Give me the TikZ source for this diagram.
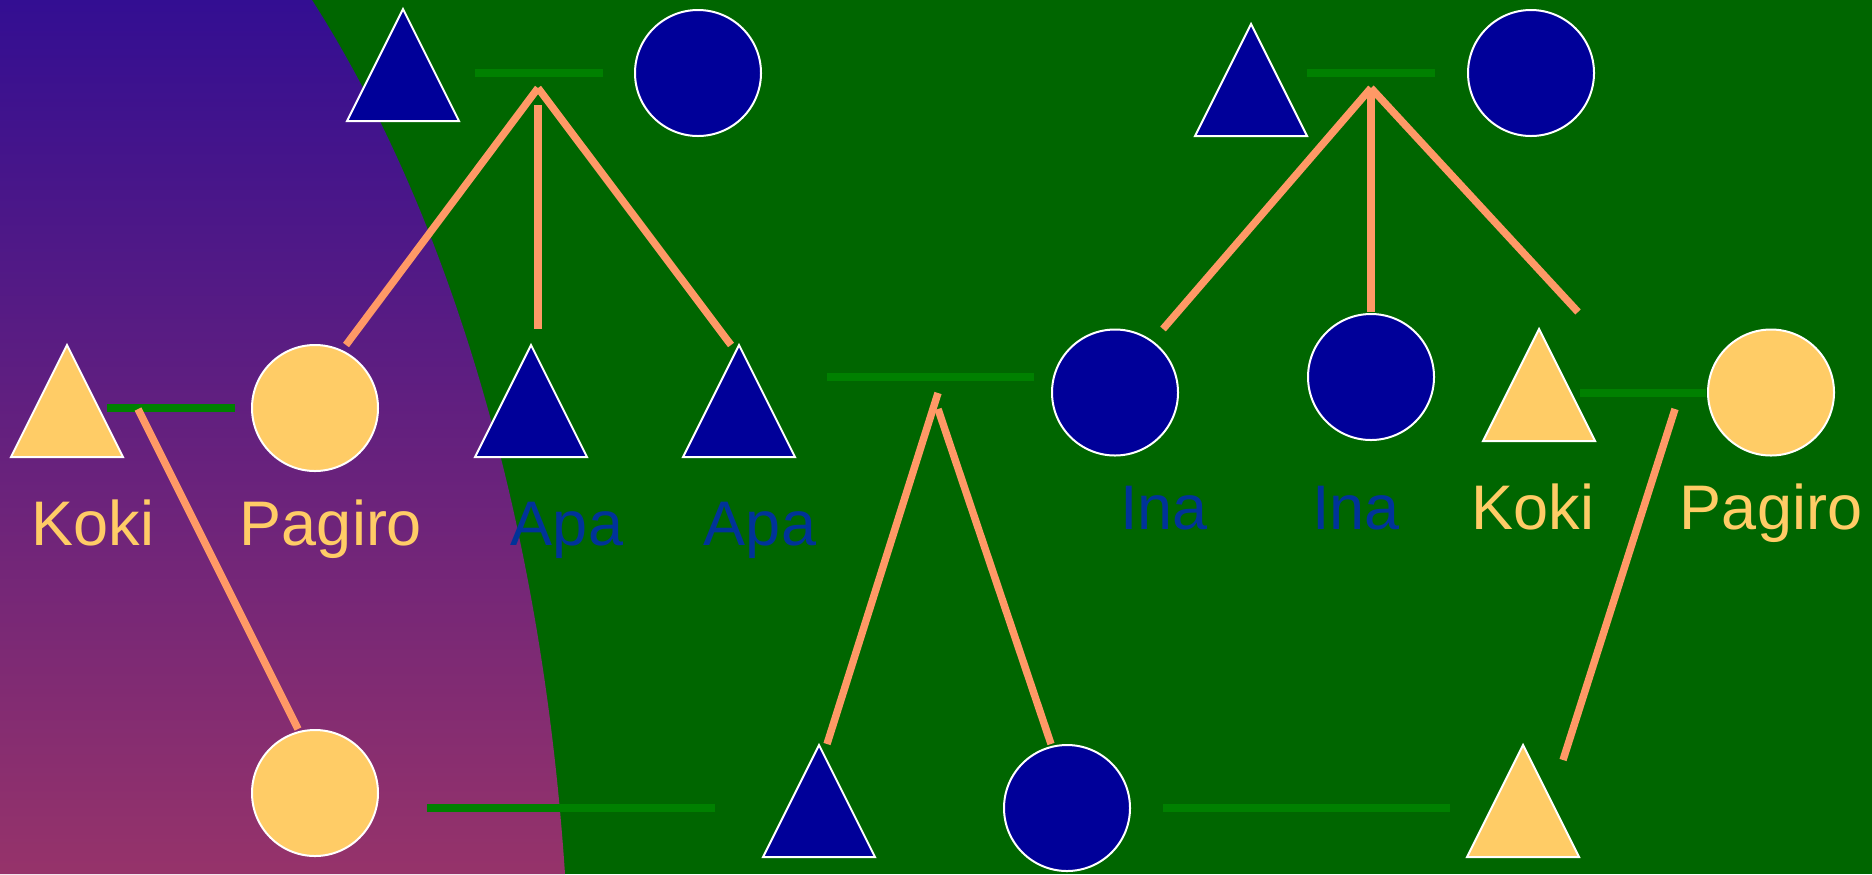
\documentclass[tikz,border=0pt]{standalone}
\usepackage{fontspec}
\setmainfont{Liberation Sans}
\usetikzlibrary{calc}

\definecolor{bggreen}{HTML}{006600}
\definecolor{wedtop}{HTML}{330E92}
\definecolor{wedbot}{HTML}{96336A}
\definecolor{bondgreen}{HTML}{008000}
\definecolor{descent}{HTML}{FF9966}
\definecolor{navyfill}{HTML}{000099}
\definecolor{goldfill}{HTML}{FFCC66}
\definecolor{labelblue}{HTML}{003399}

% triangle (male) of 112 x 112 units, centred on a named coordinate
\newcommand\maleat[3]{%
  \coordinate (#1) at #2;
  \filldraw[maleshape, fill=#3] (#1) ++(0,-56) -- ++(56,112) -- ++(-112,0) -- cycle;}

\begin{document}
\begin{tikzpicture}[x=0.5pt, y=-0.5pt,
  maleshape/.style={draw=white, line width=1pt, line join=miter},
  femaleshape/.style={circle, draw=white, line width=1pt, minimum size=63pt, inner sep=0pt},
  bond/.style={bondgreen, line width=4pt},
  child/.style={descent, line width=3.7pt},
  lab/.style={anchor=base, inner sep=0pt, font=\fontsize{31.5}{36}\selectfont},
]
\useasboundingbox (0,0) rectangle (1872,874);

% background
\fill[bggreen] (0,0) rectangle (1872,874);
\shade[top color=wedtop, bottom color=wedbot]
  (0,0) -- (312,0) .. controls (440,200) and (540,500) .. (565,874) -- (0,874) -- cycle;

% ---- people ----
\maleat{fA}{(403,65)}{navyfill}
\node[femaleshape, fill=navyfill] (mA) at (698,73) {};
\maleat{fB}{(1251,80)}{navyfill}
\node[femaleshape, fill=navyfill] (mB) at (1531,73) {};

\maleat{kokiL}{(67,401)}{goldfill}
\node[femaleshape, fill=goldfill] (pagiroL) at (315,408) {};
\maleat{apa1}{(531,401)}{navyfill}
\maleat{apa2}{(739,401)}{navyfill}

\node[femaleshape, fill=navyfill] (ina1) at (1115,392.5) {};
\node[femaleshape, fill=navyfill] (ina2) at (1371,377) {};
\maleat{kokiR}{(1539,385)}{goldfill}
\node[femaleshape, fill=goldfill] (pagiroR) at (1771,392.5) {};

\node[femaleshape, fill=goldfill] (gcL) at (315,793) {};
\maleat{gcM}{(819,801)}{navyfill}
\node[femaleshape, fill=navyfill] (gcF) at (1067,808) {};
\maleat{gcR}{(1523,801)}{goldfill}

% ---- names ----
\node[lab, text=goldfill] (nKokiL) at (93,545) {Koki};
\node[lab, text=goldfill] (nPagiroL) at (331,545) {Pagiro};
\node[lab, text=labelblue] (nApa1) at (567,545) {Apa};
\node[lab, text=labelblue] (nApa2) at (760,545) {Apa};
\node[lab, text=labelblue] (nIna1) at (1164,529) {Ina};
\node[lab, text=labelblue] (nIna2) at (1356,529) {Ina};
\node[lab, text=goldfill] (nKokiR) at (1533,529) {Koki};
\node[lab, text=goldfill] (nPagiroR) at (1771,529) {Pagiro};

% ---- marriage bars ----
\coordinate (b1a) at (475,73);   \coordinate (b1b) at (603,73);
\coordinate (b2a) at (1307,73);  \coordinate (b2b) at (1435,73);
\coordinate (b3a) at (107,408);  \coordinate (b3b) at (235,408);
\coordinate (b4a) at (827,377);  \coordinate (b4b) at (1034,377);
\coordinate (b5a) at (1580,393); \coordinate (b5b) at (1706,393);
\coordinate (b6a) at (427,808);  \coordinate (b6b) at (715,808);
\coordinate (b7a) at (1163,808); \coordinate (b7b) at (1450,808);
\foreach \p in {1,...,7} \draw[bond] (b\p a) -- (b\p b);

% ---- descent lines ----
\coordinate (dA) at (538,88);   \coordinate (dA2) at (538,105);
\coordinate (dB) at (1371,88);
\coordinate (dC) at (938,393);  \coordinate (dC2) at (938,409);
\coordinate (dD) at (1675,409); \coordinate (dE) at (138,409);

\coordinate (eA1) at (346,345); \coordinate (eA2) at (538,329); \coordinate (eA3) at (731,345);
\coordinate (eB1) at (1163,329); \coordinate (eB2) at (1371,312); \coordinate (eB3) at (1578,312);
\coordinate (eC1) at (827,744); \coordinate (eC2) at (1051,744);
\coordinate (eD) at (1563,760); \coordinate (eE) at (298,729);

\draw[child] (dA) -- (eA1);
\draw[child] (dA2) -- (eA2);
\draw[child] (dA) -- (eA3);
\draw[child] (dB) -- (eB1);
\draw[child] (dB) -- (eB2);
\draw[child] (dB) -- (eB3);
\draw[child] (dC) -- (eC1);
\draw[child] (dC2) -- (eC2);
\draw[child] (dD) -- (eD);
\draw[child] (dE) -- (eE);
\end{tikzpicture}
\end{document}
